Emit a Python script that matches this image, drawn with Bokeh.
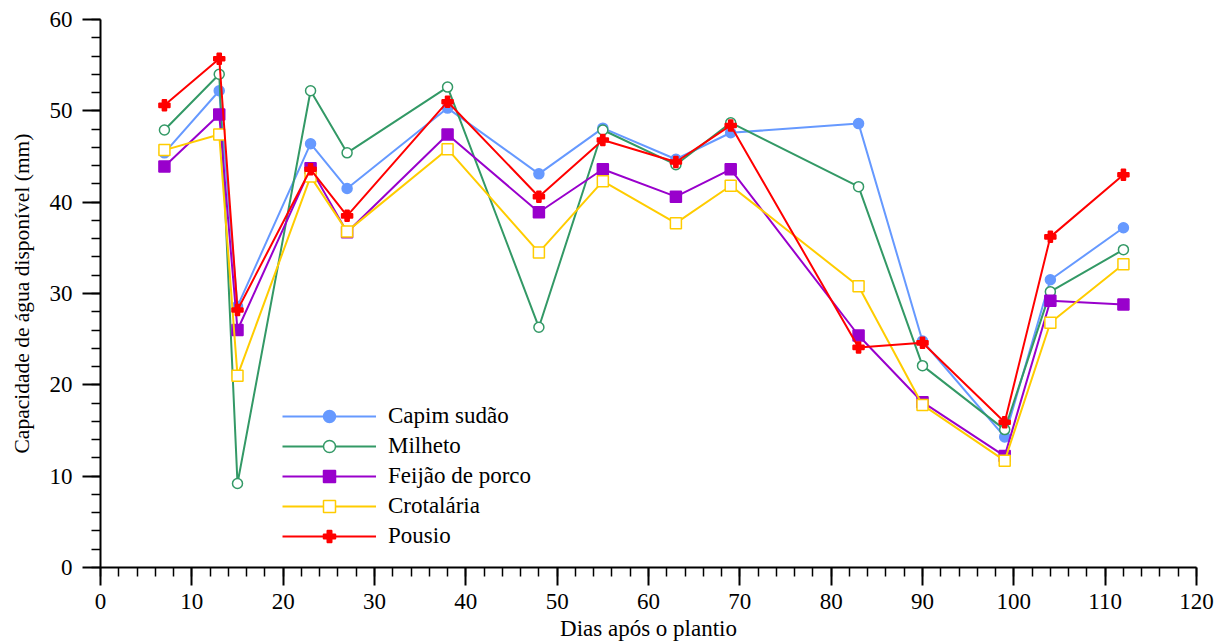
from bokeh.plotting import figure
from bokeh.models import Range1d, Legend, LegendItem, FixedTicker
from bokeh.embed import file_html
from bokeh.resources import INLINE

dias = [7, 13, 15, 23, 27, 38, 48, 55, 63, 69, 83, 90, 99, 104, 112]
capim_sudao = [45.4, 52.2, 28.6, 46.4, 41.5, 50.3, 43.1, 48.1, 44.7, 47.6, 48.6, 24.8, 14.3, 31.5, 37.2]
milheto = [47.9, 54.0, 9.2, 52.2, 45.4, 52.6, 26.3, 47.9, 44.1, 48.7, 41.7, 22.1, 15.1, 30.2, 34.8]
feijao_de_porco = [43.9, 49.6, 26.0, 43.7, 36.7, 47.4, 38.9, 43.6, 40.6, 43.6, 25.4, 18.1, 12.2, 29.2, 28.8]
crotalaria = [45.7, 47.4, 21.0, 42.8, 36.8, 45.8, 34.5, 42.3, 37.7, 41.8, 30.8, 17.8, 11.7, 26.8, 33.2]
pousio = [50.6, 55.7, 28.2, 43.6, 38.5, 51.0, 40.6, 46.8, 44.4, 48.4, 24.1, 24.6, 15.9, 36.2, 43.0]

x_ticks = list(range(0, 121, 10))
y_ticks = list(range(0, 61, 10))
x_label = "Dias após o plantio"
y_label = "Capacidade de água disponível (mm)"

FONT = "Liberation Serif"
FS = "23px"

p = figure(width=1227, height=643, output_backend="svg", toolbar_location=None,
           x_range=Range1d(0, 120), y_range=Range1d(0, 60),
           min_border_left=100, min_border_right=31, min_border_top=19, min_border_bottom=76)
p.outline_line_color = None
p.xgrid.visible = False
p.ygrid.visible = False
p.background_fill_color = "white"
p.border_fill_color = "white"

for ax in (p.xaxis[0], p.yaxis[0]):
    ax.major_label_text_font = FONT
    ax.major_label_text_font_size = FS
    ax.major_label_text_color = "black"
    ax.axis_label_text_font = FONT
    ax.axis_label_text_font_size = FS
    ax.axis_label_text_font_style = "normal"
    ax.axis_label_text_color = "black"
    ax.axis_line_color = "black"
    ax.axis_line_width = 2
    ax.major_tick_line_color = "black"
    ax.major_tick_line_width = 2
    ax.minor_tick_line_color = "black"
    ax.minor_tick_line_width = 1.5
    ax.major_tick_in = 0
    ax.major_tick_out = 18
    ax.minor_tick_in = 0
    ax.minor_tick_out = 9

p.yaxis[0].axis_label_text_font_size = "21.5px"
p.xaxis[0].ticker = FixedTicker(ticks=x_ticks, minor_ticks=list(range(0, 121, 2)))
p.yaxis[0].ticker = FixedTicker(ticks=y_ticks, minor_ticks=list(range(0, 61, 2)))
p.xaxis[0].axis_label = x_label
p.yaxis[0].axis_label = y_label
p.xaxis[0].major_label_standoff = 8
p.yaxis[0].major_label_standoff = 10
p.xaxis[0].axis_label_standoff = 4
p.yaxis[0].axis_label_standoff = 13

series = [
    ("Capim sudão", capim_sudao, "#6699FF", "circle", 10, True),
    ("Milheto", milheto, "#339966", "circle", 10, False),
    ("Feijão de porco", feijao_de_porco, "#9900CC", "square", 11, True),
    ("Crotalária", crotalaria, "#FFCC00", "square", 11, False),
    ("Pousio", pousio, "#FF0000", "plus", 11, True),
]

items = []
for name, ys, color, marker, size, filled in series:
    ln = p.line(dias, ys, line_color=color, line_width=2)
    sc = p.scatter(dias, ys, marker=marker, size=size, line_color=color,
                   fill_color=color if filled else "white",
                   fill_alpha=1.0, line_width=1.5)
    items.append(LegendItem(label=name, renderers=[ln, sc]))

legend = Legend(items=items, location=(182, 16), orientation="vertical",
                label_text_font=FONT, label_text_font_size=FS, label_text_color="black",
                glyph_width=94, glyph_height=30, label_height=30, spacing=0,
                label_standoff=12, padding=0, margin=0,
                border_line_alpha=0, background_fill_alpha=0)
p.add_layout(legend, "center")

open("out.html", "w").write(file_html(p, INLINE))
